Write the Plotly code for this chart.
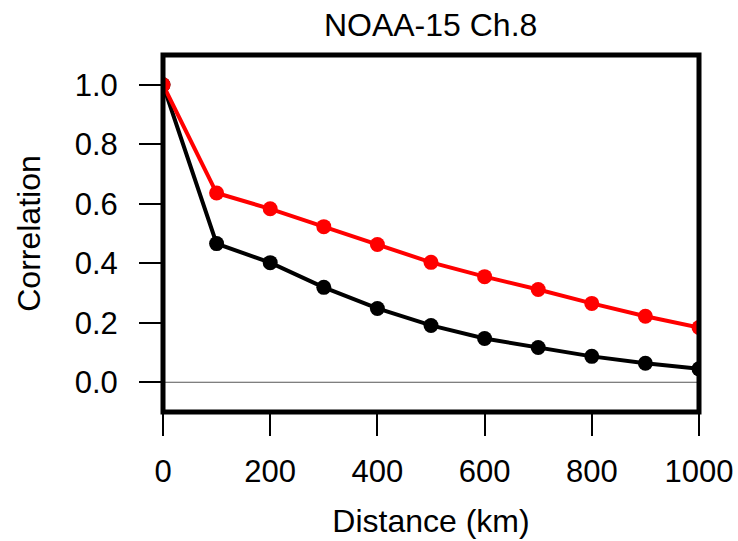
import plotly.graph_objects as go

distance = [0, 100, 200, 300, 400, 500, 600, 700, 800, 900, 1000]
red_corr = [1.0, 0.636, 0.583, 0.523, 0.463, 0.403, 0.355, 0.312, 0.265, 0.222, 0.184]
black_corr = [1.0, 0.466, 0.402, 0.319, 0.248, 0.191, 0.147, 0.117, 0.087, 0.064, 0.045]
x_ticks = [0, 200, 400, 600, 800, 1000]
y_ticks = [0.0, 0.2, 0.4, 0.6, 0.8, 1.0]
y_ticklabels = ["0.0", "0.2", "0.4", "0.6", "0.8", "1.0"]

font = "Liberation Sans, Arial, Helvetica, sans-serif"

fig = go.Figure()
fig.add_trace(go.Scatter(x=distance, y=black_corr, mode="lines+markers",
                         line=dict(color="black", width=4),
                         marker=dict(color="black", size=15), showlegend=False))
fig.add_trace(go.Scatter(x=distance, y=red_corr, mode="lines+markers",
                         line=dict(color="#ff0000", width=4),
                         marker=dict(color="#ff0000", size=15), showlegend=False))

fig.add_shape(type="line", xref="paper", yref="y", x0=0, x1=1, y0=0, y1=0,
              line=dict(color="#555555", width=1), layer="below")
fig.add_shape(type="rect", xref="paper", yref="paper", x0=0, x1=1, y0=0, y1=1,
              line=dict(color="black", width=5))

fig.update_layout(
    width=738, height=541,
    margin=dict(l=163, r=39, t=55, b=129, autoexpand=False),
    plot_bgcolor="white", paper_bgcolor="white",
    font=dict(family=font, color="black", size=32),
    title=dict(text="NOAA-15 Ch.8", x=0.5835, xanchor="center", y=0.954, yanchor="middle",
               font=dict(size=32)),
    xaxis=dict(range=[0, 1000], tickvals=x_ticks, showgrid=False, zeroline=False,
               automargin=False,
               showline=False, ticks="outside", ticklen=23, tickwidth=2, tickcolor="black",
               tickfont=dict(size=31), ticklabelstandoff=9,
               title=dict(text="Distance (km)", font=dict(size=32), standoff=21)),
    yaxis=dict(range=[-0.1, 1.1], tickvals=y_ticks, ticktext=y_ticklabels, showgrid=False,
               automargin=False,
               zeroline=False, showline=False, ticks="outside", ticklen=23, tickwidth=2,
               tickcolor="black", tickfont=dict(size=31), ticklabelstandoff=15,
               title=dict(text="Correlation", font=dict(size=32), standoff=24)),
)

fig.write_html(
    "out.html",
    config={"displayModeBar": False},
    post_script="document.body.style.margin='0px';"
                "document.documentElement.style.overflow='hidden';",
)
